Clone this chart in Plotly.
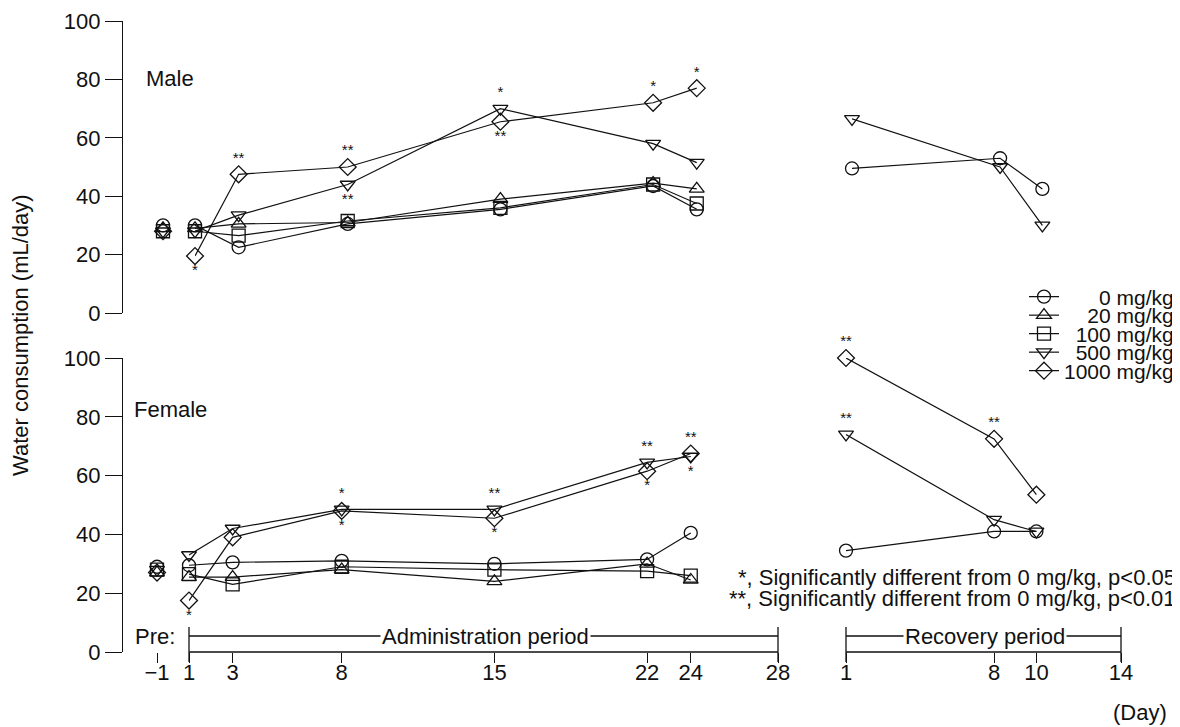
import plotly.graph_objects as go

# the page body adds an 8 px margin, so the figure is 8 px smaller and every
# pixel position below is given in window coordinates and converted with OFF
OFF = 8
W, H = 1180 - OFF, 727 - OFF
FONT = "Liberation Sans, Arial, Helvetica, sans-serif"
FS = 22

# ---------------- data ----------------
dose_labels = ["0 mg/kg", "20 mg/kg", "100 mg/kg", "500 mg/kg", "1000 mg/kg"]
dose_symbols = ["circle-open", "triangle-up-open", "square-open",
                "triangle-down-open", "diamond-open"]

pre_days = [-1]
admin_days = [1, 3, 8, 15, 22, 24]
recovery_days = [1, 8, 10]
admin_ticks = [1, 3, 8, 15, 22, 24, 28]
recovery_ticks = [1, 8, 10, 14]
admin_period = [1, 28]
recovery_period = [1, 14]
y_ticks = [0, 20, 40, 60, 80, 100]

# Male (pre values in dose order 0, 20, 100, 500, 1000)
male_pre = [30, 29, 28, 28, 28]
male_admin_0 = [30, 22.5, 30.5, 35.5, 43.5, 35.5]
male_admin_20 = [29, 30.5, 31, 39, 44.5, 42.5]
male_admin_100 = [28, 26.5, 31.5, 36, 44, 37.5]
male_admin_500 = [28, 33.5, 44, 70, 58, 51.5]
male_admin_1000 = [19.5, 47.5, 50, 65.5, 72, 77]
male_rec_0 = [49.5, 53, 42.5]
male_rec_500 = [66.5, 50, 30]

# Female
female_pre = [29, 27, 28, 28, 27]
female_admin_0 = [29.5, 30.5, 31, 30, 31.5, 40.5]
female_admin_20 = [25.5, 25.5, 28, 24, 30, 24.5]
female_admin_100 = [26.5, 23, 29, 28, 27.5, 26]
female_admin_500 = [33, 42, 48.5, 48.5, 64.5, 66.5]
female_admin_1000 = [17.5, 39, 48, 45.5, 61.5, 67.5]
female_rec_0 = [34.5, 41, 41]
female_rec_500 = [74, 45, 41]
female_rec_1000 = [100, 72.5, 53.5]

# Significance marks (vs 0 mg/kg)
male_sig_500 = ["", "", "**", "*", "", ""]
male_sig_1000 = ["*", "**", "**", "**", "*", "*"]
female_sig_500 = ["", "", "*", "**", "**", "*"]
female_sig_1000 = ["*", "", "*", "*", "*", "**"]
female_rec_sig_500 = ["**", "", ""]
female_rec_sig_1000 = ["**", "**", ""]

# placement of the marks (style only)
male_sigpos_500 = ["top center"] * 2 + ["bottom center", "top center"] + ["top center"] * 2
male_sigpos_1000 = ["bottom center", "top center", "top center", "bottom center",
                    "top center", "top center"]
female_sigpos_500 = ["top center"] * 5 + ["bottom center"]
female_sigpos_1000 = ["bottom center"] * 5 + ["top center"]

# ---------------- layout geometry (window pixels) ----------------
def fx(px):
    return (px - OFF) / W


def fy(py):
    return 1 - (py - OFF) / H


ADMIN_PX = (189, 778)
REC_PX = (846, 1121)
PRE_C = 157
MALE_SHIFT = 6
YAXIS_X = 122
FEMALE_Y = (652, 358)
MALE_Y = (313, 21)
INK = "#111111"
MSIZE = 13

fig = go.Figure()

line_style = dict(color=INK, width=1.2)


def marker(i):
    return dict(symbol=dose_symbols[i], size=MSIZE, color=INK,
                line=dict(color=INK, width=1.3))


def add_lines(x, y, xa, ya, i, mode="lines+markers", legend=None):
    fig.add_trace(go.Scatter(
        x=x, y=y, xaxis=xa, yaxis=ya, mode=mode, name=dose_labels[i],
        line=line_style, marker=marker(i), cliponaxis=False,
        showlegend=legend is not None, legend=legend or "legend",
        legendgroup=dose_labels[i]))


def add_sig(x, y, text, pos, xa, ya):
    fig.add_trace(go.Scatter(
        x=x, y=y, xaxis=xa, yaxis=ya, mode="markers+text", text=text,
        textposition=pos, cliponaxis=False, showlegend=False,
        marker=dict(size=MSIZE - 2, color="rgba(0,0,0,0)"),
        textfont=dict(family=FONT, size=15, color=INK),
        hoverinfo="skip"))


male_admin = [male_admin_0, male_admin_20, male_admin_100, male_admin_500, male_admin_1000]
female_admin = [female_admin_0, female_admin_20, female_admin_100, female_admin_500,
                female_admin_1000]
legend_names = ["legend", "legend2", "legend3", "legend4", "legend5"]

for i in range(5):
    # female: x (admin), x2 (pre), x3 (recovery), y
    add_lines(admin_days, female_admin[i], "x", "y", i, legend=legend_names[i])
    add_lines(pre_days, [female_pre[i]], "x2", "y", i, mode="markers")
    # male: x4 (admin), x5 (pre), x6 (recovery), y2
    add_lines(admin_days, male_admin[i], "x4", "y2", i)
    add_lines(pre_days, [male_pre[i]], "x5", "y2", i, mode="markers")

add_lines(recovery_days, male_rec_0, "x6", "y2", 0)
add_lines(recovery_days, male_rec_500, "x6", "y2", 3)
add_lines(recovery_days, female_rec_0, "x3", "y", 0)
add_lines(recovery_days, female_rec_500, "x3", "y", 3)
add_lines(recovery_days, female_rec_1000, "x3", "y", 4)

add_sig(admin_days, male_admin_500, male_sig_500, male_sigpos_500, "x4", "y2")
add_sig(admin_days, male_admin_1000, male_sig_1000, male_sigpos_1000, "x4", "y2")
add_sig(admin_days, female_admin_500, female_sig_500, female_sigpos_500, "x", "y")
add_sig(admin_days, female_admin_1000, female_sig_1000, female_sigpos_1000, "x", "y")
add_sig(recovery_days, female_rec_500, female_rec_sig_500, "top center", "x3", "y")
add_sig(recovery_days, female_rec_1000, female_rec_sig_1000, "top center", "x3", "y")

tickfont = dict(family=FONT, size=FS, color=INK)

xcommon = dict(showgrid=False, zeroline=False, showline=False, ticks="outside",
               ticklen=10, tickwidth=1.3, tickcolor=INK, tickfont=tickfont,
               automargin=False, ticklabelstandoff=-9)
hidden = dict(visible=False, automargin=False)
ycommon = dict(range=[0, 100], tickvals=y_ticks, anchor="free", position=fx(YAXIS_X),
               showline=True, linewidth=1.3, linecolor=INK, showgrid=False,
               zeroline=False, ticks="outside", ticklen=17, tickwidth=1.3,
               tickcolor=INK, tickfont=tickfont, automargin=False)

pre_range = [pre_days[0] - 0.5, pre_days[0] + 0.5]

fig.update_layout(
    width=W, height=H, margin=dict(l=0, r=0, t=0, b=0, autoexpand=False),
    paper_bgcolor="white", plot_bgcolor="rgba(0,0,0,0)",
    font=dict(family=FONT, size=FS, color=INK),
    xaxis=dict(domain=[fx(ADMIN_PX[0]), fx(ADMIN_PX[1])], range=admin_period,
               tickvals=admin_ticks, anchor="y", **xcommon),
    xaxis2=dict(domain=[fx(PRE_C - 11), fx(PRE_C + 11)], range=pre_range,
                tickvals=pre_days, ticktext=["\u22121"], anchor="y", **xcommon),
    xaxis3=dict(domain=[fx(REC_PX[0]), fx(REC_PX[1])], range=recovery_period,
                tickvals=recovery_ticks, anchor="y", **xcommon),
    xaxis4=dict(domain=[fx(ADMIN_PX[0] + MALE_SHIFT), fx(ADMIN_PX[1] + MALE_SHIFT)],
                range=admin_period, anchor="y2", **hidden),
    xaxis5=dict(domain=[fx(PRE_C + MALE_SHIFT - 11), fx(PRE_C + MALE_SHIFT + 11)],
                range=pre_range, anchor="y2", **hidden),
    xaxis6=dict(domain=[fx(REC_PX[0] + MALE_SHIFT), fx(REC_PX[1] + MALE_SHIFT)],
                range=recovery_period, anchor="y2", **hidden),
    yaxis=dict(domain=[fy(FEMALE_Y[0]), fy(FEMALE_Y[1])], **ycommon),
    yaxis2=dict(domain=[fy(MALE_Y[0]), fy(MALE_Y[1])], **ycommon),
    hovermode="closest",
)

# one legend per dose so the rows can sit as tightly as in the original
pad = {0: 6, 1: 4, 2: 2, 3: 2, 4: 0}
legend_rows = [297, 315.5, 334, 352.5, 371]
for i, ln in enumerate(legend_names):
    fig.update_layout({ln: dict(
        x=fx(1179), xanchor="right", y=fy(legend_rows[i]), yanchor="middle",
        bgcolor="rgba(0,0,0,0)", borderwidth=0, itemwidth=30,
        font=dict(family=FONT, size=FS - 1, color=INK))})
for tr in fig.data:
    if tr.showlegend:
        idx = dose_labels.index(tr.name)
        tr.name = "\u00a0" * pad[idx] + dose_labels[idx]


# period brackets (paper coordinates derived from the axes geometry)
def day_px(day, period, px):
    return px[0] + (day - period[0]) * (px[1] - px[0]) / (period[1] - period[0])


shapes = []
lw = dict(color=INK, width=1.3)
for period, px in ((admin_period, ADMIN_PX), (recovery_period, REC_PX)):
    x0 = fx(day_px(period[0], period, px))
    x1 = fx(day_px(period[1], period, px))
    for yy in (652, 636):
        shapes.append(dict(type="line", xref="paper", yref="paper", x0=x0, x1=x1,
                           y0=fy(yy), y1=fy(yy), line=lw))
    for xx in (x0, x1):
        shapes.append(dict(type="line", xref="paper", yref="paper", x0=xx, x1=xx,
                           y0=fy(627), y1=fy(662), line=lw))
fig.update_layout(shapes=shapes)

ann = []


def text(s, px, py, xanchor="center", size=FS, bg=None, angle=0):
    d = dict(text=s, xref="paper", yref="paper", x=fx(px), y=fy(py),
             xanchor=xanchor, yanchor="middle", showarrow=False, textangle=angle,
             borderpad=0, font=dict(family=FONT, size=size, color=INK))
    if bg:
        d["bgcolor"] = bg
        d["borderpad"] = 1
    ann.append(d)


text("Male", 145, 78, "left")
text("Female", 133, 410, "left")
text("Water consumption (mL/day)", 21, 335, angle=-90)
text("Pre:", 155, 636)
text("Administration period", 485, 636, bg="white")
text("Recovery period", 985, 636, bg="white")
text("(Day)", 1140, 712)
text("*, Significantly different from 0 mg/kg, p<0.05", 1177, 577, "right")
text("**, Significantly different from 0 mg/kg, p<0.01", 1177, 598, "right")
fig.update_layout(annotations=ann)

fig.write_html("out.html")
